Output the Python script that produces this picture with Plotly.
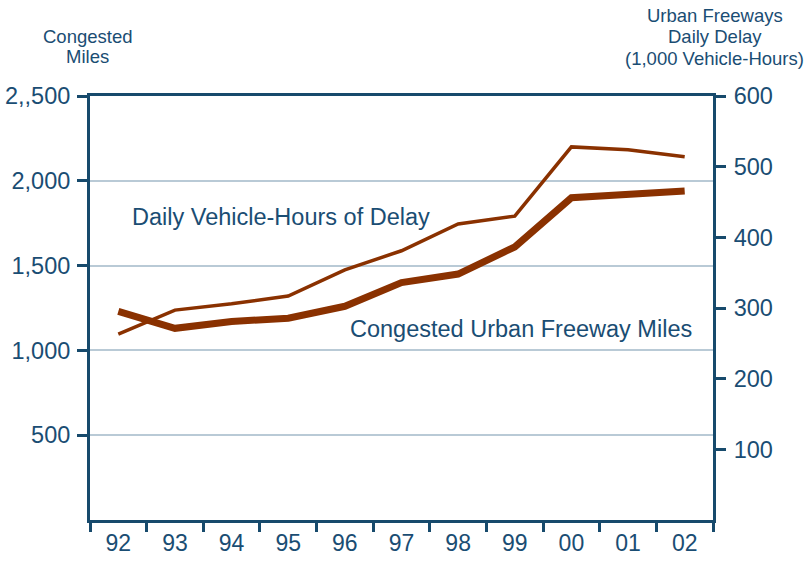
import plotly.graph_objects as go

years = ["92", "93", "94", "95", "96", "97", "98", "99", "00", "01", "02"]
congested_miles = [1230, 1130, 1170, 1190, 1260, 1400, 1450, 1610, 1900, 1925, 1940]
daily_delay = [263, 297, 306, 317, 354, 381, 419, 430, 528, 524, 514]

left_ticks = [500, 1000, 1500, 2000, 2500]
left_labels = ["500", "1,000", "1,500", "2,000", "2,,500"]
right_ticks = [100, 200, 300, 400, 500, 600]

left_title = ["Congested", "Miles"]
right_title = ["Urban Freeways", "Daily Delay", "(1,000 Vehicle-Hours)"]

NAVY = "#1a4d73"
AXIS = "#174a6c"
RUST = "#8a3100"
GRID = "#b9cad6"
FONT = "Liberation Sans, Arial, sans-serif"

fig = go.Figure()
fig.add_trace(go.Scatter(x=years, y=congested_miles, mode="lines",
                         line=dict(color=RUST, width=7), yaxis="y", showlegend=False))
fig.add_trace(go.Scatter(x=years, y=daily_delay, mode="lines",
                         line=dict(color=RUST, width=3.5), yaxis="y2", showlegend=False))

fig.update_layout(
    width=808, height=563,
    margin=dict(l=90, r=95, t=96, b=43),
    plot_bgcolor="white", paper_bgcolor="white",
    font=dict(family=FONT, color=NAVY),
    xaxis=dict(type="category", tickson="boundaries", ticks="outside", ticklen=9,
               tickwidth=2.5, tickcolor=AXIS, showline=True, linecolor=AXIS,
               linewidth=3, mirror=True, showgrid=False, automargin=False,
               tickfont=dict(size=23, color=NAVY), range=[-0.5, 10.5]),
    yaxis=dict(range=[0, 2500], tickvals=left_ticks, ticktext=left_labels,
               ticks="outside", ticklen=10, tickwidth=2.5, tickcolor=AXIS,
               showline=True, linecolor=AXIS, linewidth=3, automargin=False,
               showgrid=True, gridcolor=GRID, gridwidth=2, zeroline=False,
               tickfont=dict(size=23.5, color=NAVY), ticklabelstandoff=2),
    yaxis2=dict(range=[0, 600], tickvals=right_ticks, overlaying="y", side="right",
                ticks="outside", ticklen=10, tickwidth=2.5, tickcolor=AXIS,
                showline=True, linecolor=AXIS, linewidth=3, showgrid=False,
                automargin=False,
                zeroline=False, tickfont=dict(size=23.5, color=NAVY), ticklabelstandoff=3),
)

fig.add_annotation(text="Daily Vehicle-Hours of Delay", xref="paper", yref="y",
                   x=0.064, y=1786, xanchor="left", yanchor="middle", showarrow=False,
                   font=dict(size=23.5, color=NAVY))
fig.add_annotation(text="Congested Urban Freeway Miles", xref="paper", yref="y",
                   x=0.414, y=1126, xanchor="left", yanchor="middle", showarrow=False,
                   font=dict(size=23.5, color=NAVY))

for txt, yp in zip(left_title, [1.1415, 1.092]):
    fig.add_annotation(text=txt, xref="paper", yref="paper", x=-0.004, y=yp,
                       xanchor="center", yanchor="middle", showarrow=False,
                       font=dict(size=18.5, color=NAVY))
for txt, yp in zip(right_title, [1.1887, 1.1392, 1.0873]):
    fig.add_annotation(text=txt, xref="paper", yref="paper", x=1.0032, y=yp,
                       xanchor="center", yanchor="middle", showarrow=False,
                       font=dict(size=18.5, color=NAVY))

fig.write_html("out.html", config={"displayModeBar": False},
               post_script="document.body.style.margin='0px';")
